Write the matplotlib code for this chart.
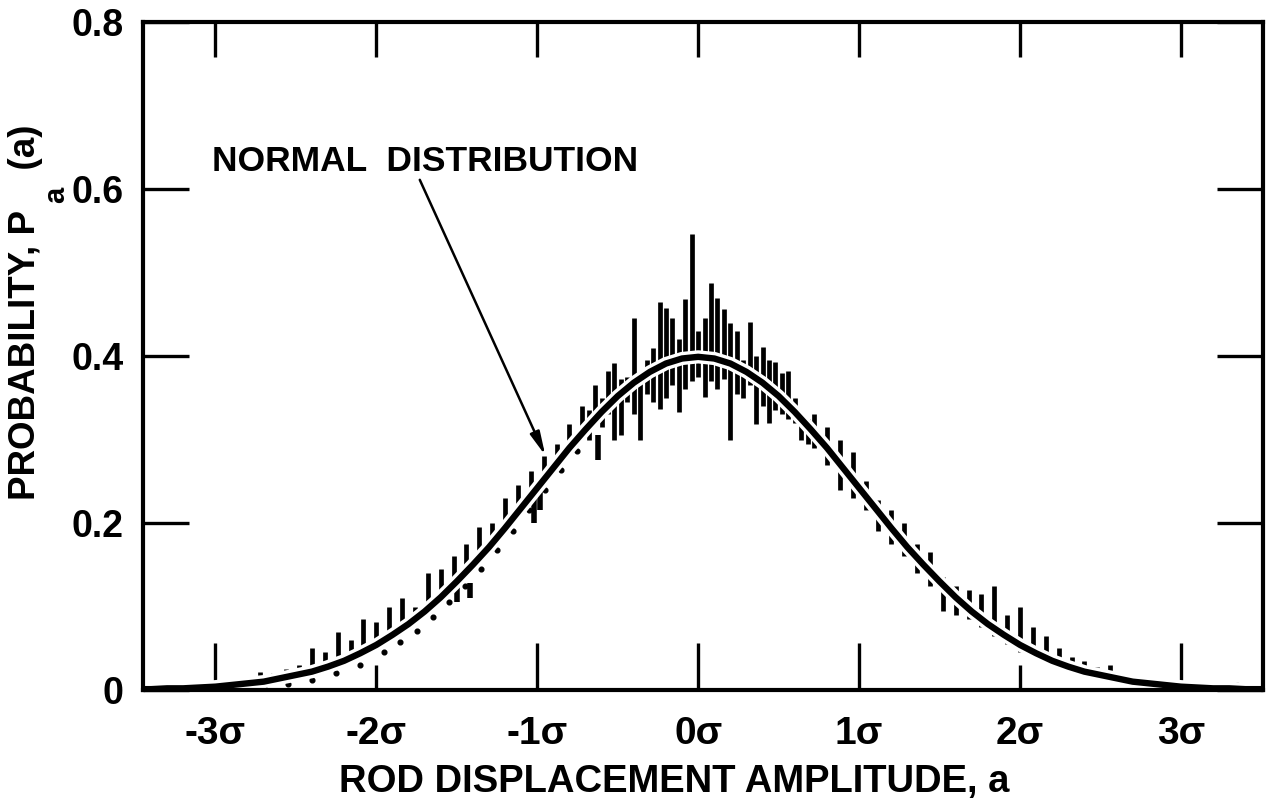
import matplotlib
matplotlib.use("Agg")
import matplotlib.pyplot as plt
import matplotlib.patheffects as pe

plt.rcParams['font.family'] = ['Liberation Sans', 'DejaVu Sans']
plt.rcParams['font.weight'] = 'bold'

# normal distribution curve (x in sigma)
norm_x = [-3.5, -3.4, -3.3, -3.2, -3.1, -3.0, -2.9, -2.8, -2.7, -2.6, -2.5, -2.4, -2.3, -2.2,
          -2.1, -2.0, -1.9, -1.8, -1.7, -1.6, -1.5, -1.4, -1.3, -1.2, -1.1, -1.0, -0.9, -0.8,
          -0.7, -0.6, -0.5, -0.4, -0.3, -0.2, -0.1, 0.0, 0.1, 0.2, 0.3, 0.4, 0.5, 0.6, 0.7,
          0.8, 0.9, 1.0, 1.1, 1.2, 1.3, 1.4, 1.5, 1.6, 1.7, 1.8, 1.9, 2.0, 2.1, 2.2, 2.3,
          2.4, 2.5, 2.6, 2.7, 2.8, 2.9, 3.0, 3.1, 3.2, 3.3, 3.4, 3.5]
norm_p = [0.001, 0.001, 0.002, 0.002, 0.003, 0.004, 0.006, 0.008, 0.010, 0.014, 0.018, 0.022,
          0.028, 0.035, 0.044, 0.054, 0.066, 0.079, 0.094, 0.111, 0.130, 0.150, 0.171, 0.194,
          0.218, 0.242, 0.266, 0.290, 0.312, 0.333, 0.352, 0.368, 0.381, 0.391, 0.397, 0.399,
          0.397, 0.391, 0.381, 0.368, 0.352, 0.333, 0.312, 0.290, 0.266, 0.242, 0.218, 0.194,
          0.171, 0.150, 0.130, 0.111, 0.094, 0.079, 0.066, 0.054, 0.044, 0.035, 0.028, 0.022,
          0.018, 0.014, 0.010, 0.008, 0.006, 0.004, 0.003, 0.002, 0.002, 0.001, 0.001]

# measured trace: vertical strokes (x, low, high)
meas_x = [-2.72, -2.64, -2.56, -2.48, -2.40, -2.32, -2.24, -2.16, -2.08, -2.00, -1.92, -1.84,
          -1.76, -1.68, -1.60, -1.52, -1.44, -1.36, -1.28, -1.20, -1.12, -1.04, -0.96, -0.88,
          -0.80, -0.72,
          -0.68, -0.64, -0.60, -0.56, -0.52, -0.48, -0.44, -0.40, -0.36, -0.32, -0.28, -0.24,
          -0.20, -0.16, -0.12, -0.08, -0.04, 0.00, 0.04, 0.08, 0.12, 0.16, 0.20, 0.24, 0.28,
          0.32, 0.36, 0.40, 0.44, 0.48, 0.52, 0.56, 0.60, 0.64, 0.68,
          0.72, 0.80, 0.88, 0.96, 1.04, 1.12, 1.20, 1.28, 1.36, 1.44, 1.52, 1.60, 1.68, 1.76,
          1.84, 1.92, 2.00, 2.08, 2.16, 2.24, 2.32, 2.40, 2.48, 2.56, 2.64, 2.72]
meas_lo = [0.010, 0.012, 0.015, 0.018, 0.022, 0.028, 0.033, 0.038, 0.045, 0.055, 0.062, 0.075,
           0.082, 0.098, 0.110, 0.125, 0.140, 0.155, 0.178, 0.195, 0.210, 0.235, 0.255, 0.268,
           0.290, 0.305,
           0.300, 0.320, 0.315, 0.330, 0.300, 0.305, 0.345, 0.330, 0.300, 0.355, 0.345, 0.336,
           0.350, 0.365, 0.333, 0.360, 0.370, 0.375, 0.351, 0.370, 0.360, 0.372, 0.300, 0.355,
           0.350, 0.365, 0.318, 0.340, 0.320, 0.335, 0.330, 0.325, 0.320, 0.300, 0.295,
           0.290, 0.270, 0.240, 0.230, 0.215, 0.190, 0.175, 0.160, 0.140, 0.125, 0.095, 0.090,
           0.085, 0.075, 0.065, 0.055, 0.045, 0.040, 0.035, 0.028, 0.022, 0.018, 0.015, 0.012,
           0.010, 0.008]
meas_hi = [0.022, 0.020, 0.025, 0.030, 0.050, 0.045, 0.070, 0.060, 0.085, 0.082, 0.100, 0.110,
           0.100, 0.140, 0.145, 0.160, 0.175, 0.195, 0.200, 0.230, 0.245, 0.262, 0.280, 0.295,
           0.318, 0.340,
           0.335, 0.365, 0.350, 0.382, 0.392, 0.372, 0.375, 0.446, 0.380, 0.395, 0.410, 0.465,
           0.458, 0.445, 0.420, 0.468, 0.546, 0.430, 0.445, 0.488, 0.470, 0.456, 0.440, 0.430,
           0.395, 0.441, 0.400, 0.411, 0.395, 0.393, 0.380, 0.382, 0.350, 0.330, 0.325,
           0.330, 0.315, 0.300, 0.285, 0.250, 0.228, 0.215, 0.200, 0.175, 0.165, 0.135, 0.125,
           0.120, 0.115, 0.125, 0.090, 0.100, 0.075, 0.065, 0.050, 0.040, 0.035, 0.028, 0.030,
           0.018, 0.015]

# blobs below the curve on the left flank
blob_x = [-1.50, -1.42, -1.02, -0.98, -0.62]
blob_lo = [0.105, 0.110, 0.200, 0.215, 0.275]
blob_hi = [0.135, 0.128, 0.235, 0.240, 0.305]

# dotted points
dot_x = [-3.20, -3.00, -2.90, -2.70, -2.55, -2.40, -2.25, -2.10, -1.95, -1.85, -1.75, -1.65,
         -1.55, -1.45, -1.35, -1.25, -1.15, -1.05, -0.95, -0.85, -0.75,
         2.80, 2.95, 3.10, 3.25, 3.35, 3.45]
dot_p = [0.002, 0.003, 0.002, 0.005, 0.007, 0.012, 0.020, 0.030, 0.045, 0.057, 0.071, 0.087,
         0.105, 0.124, 0.145, 0.168, 0.191, 0.215, 0.239, 0.263, 0.286,
         0.012, 0.008, 0.005, 0.004, 0.006, 0.005]

sigma_ticks = [-3, -2, -1, 0, 1, 2, 3]
sigma_labels = ['-3σ', '-2σ', '-1σ', '0σ', '1σ', '2σ', '3σ']
prob_ticks = [0, 0.2, 0.4, 0.6, 0.8]
prob_labels = ['0', '0.2', '0.4', '0.6', '0.8']

fig = plt.figure(figsize=(12.68, 7.99), dpi=100)
ax = fig.add_axes([143 / 1268, 1 - 690 / 799, 1120 / 1268, 668 / 799])

ax.vlines(meas_x, meas_lo, meas_hi, color='black', linewidth=3.4)
ax.vlines(blob_x, blob_lo, blob_hi, color='black', linewidth=4)
ax.plot(dot_x, dot_p, 'o', color='black', markersize=3.4)
ax.plot(norm_x, norm_p, color='black', linewidth=4.6, solid_capstyle='round',
        path_effects=[pe.Stroke(linewidth=9.5, foreground='white'), pe.Normal()])

ax.set_xlim(-3.45, 3.51)
ax.set_ylim(0, 0.8)

# long ticks at -3, -1, 0, 1, 3; short ticks at +-2
big = [t for t in sigma_ticks if t not in (-2, 2)]
ax.set_xticks(big, [sigma_labels[sigma_ticks.index(t)] for t in big])
ax.set_xticks([-2, 2], ['-2σ', '2σ'], minor=True)
ax.tick_params(axis='x', which='major', direction='in', length=34, width=2.4, pad=19,
               labelsize=28, top=False)
ax.tick_params(axis='x', which='minor', direction='in', length=18, width=2.4, pad=19,
               labelsize=28, top=False)
top = ax.secondary_xaxis('top')
top.set_xticks(sigma_ticks)
top.tick_params(direction='in', length=25, width=2.4, labeltop=False)
top.spines['top'].set_visible(False)

ax.set_yticks(prob_ticks, prob_labels)
ax.tick_params(axis='y', direction='in', length=33, width=2.4, pad=14, labelsize=27,
               right=True)

for s in ax.spines.values():
    s.set_linewidth(3)

ax.set_xlabel('ROD DISPLACEMENT AMPLITUDE, a', fontsize=27.5, fontweight='bold', va='center')
ax.xaxis.set_label_coords(0.474, -0.137)
ax.set_ylabel('PROBABILITY, P    (a)', fontsize=26.5, fontweight='bold', va='center')
ax.yaxis.set_label_coords(-0.105, 0.565)
fig.text(56 / 1268, 1 - 195 / 799, 'a', rotation=90, fontsize=21, fontweight='bold',
         ha='center', va='center')

ax.text(-3.02, 0.622, 'NORMAL  DISTRIBUTION', fontsize=25.5, fontweight='bold',
        ha='left', va='baseline')
ax.annotate('', xy=(-0.95, 0.281), xytext=(-1.73, 0.611),
            arrowprops=dict(arrowstyle='-|>,head_length=1.4,head_width=0.3',
                            color='black', linewidth=1.8, shrinkA=0, shrinkB=0))

fig.savefig('out.png', dpi=100)
